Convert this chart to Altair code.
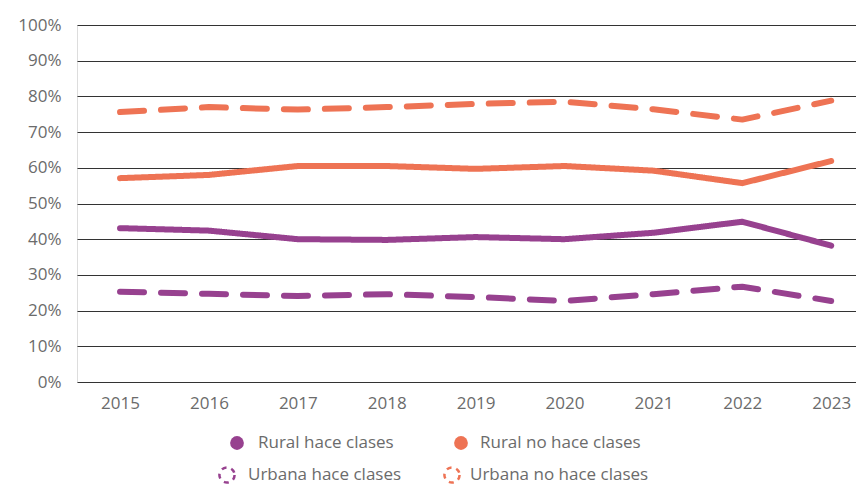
import altair as alt
import pandas as pd

years = [2015, 2016, 2017, 2018, 2019, 2020, 2021, 2022, 2023]
series_names = ["Rural hace clases", "Rural no hace clases", "Urbana hace clases", "Urbana no hace clases"]
rural_hace = [43.1, 42.4, 40.0, 39.8, 40.6, 40.0, 41.8, 44.9, 38.2]
rural_no_hace = [57.1, 58.0, 60.5, 60.5, 59.7, 60.5, 59.2, 55.7, 61.9]
urbana_hace = [25.3, 24.7, 24.1, 24.6, 23.8, 22.7, 24.6, 26.7, 22.7]
urbana_no_hace = [75.6, 77.0, 76.3, 77.0, 77.9, 78.5, 76.4, 73.5, 78.8]
y_ticks = [0, 10, 20, 30, 40, 50, 60, 70, 80, 90, 100]

PURPLE = "#97418F"
ORANGE = "#EE7354"
GREY = "#6b6b6b"
FONT = "Open Sans"

rows = []
for name, vals in zip(series_names, [rural_hace, rural_no_hace, urbana_hace, urbana_no_hace]):
    for yr, v in zip(years, vals):
        rows.append({"year": yr, "value": v, "serie": name})
df = pd.DataFrame(rows)

lines = alt.Chart(df).mark_line(strokeWidth=6, strokeCap="round", strokeJoin="round").encode(
    x=alt.X("year:Q",
            scale=alt.Scale(domain=[2014.516, 2023.279], nice=False, zero=False),
            axis=alt.Axis(values=years, format="d", title=None, grid=False, domain=False, ticks=False,
                          labelFontSize=17, labelColor=GREY, labelFont=FONT, labelPadding=13,
                          labelFlush=False)),
    y=alt.Y("value:Q",
            scale=alt.Scale(domain=[0, 100], nice=False),
            axis=alt.Axis(values=y_ticks, labelExpr="datum.value + '%'", title=None, domain=False, ticks=False,
                          grid=True, gridColor="#333333", gridWidth=1, gridOpacity=1,
                          labelFontSize=17, labelColor=GREY, labelFont=FONT, labelPadding=16)),
    color=alt.Color("serie:N", scale=alt.Scale(domain=series_names, range=[PURPLE, ORANGE, PURPLE, ORANGE]), legend=None),
    strokeDash=alt.StrokeDash("serie:N", scale=alt.Scale(domain=series_names, range=[[1, 0], [1, 0], [24, 17], [24, 17]]), legend=None),
    detail="serie:N",
)

legend_layers = []
leg_pos = [(160, 418, 181), (384, 418, 403), (150, 450, 171), (375, 450, 393)]
leg_colors = [PURPLE, ORANGE, PURPLE, ORANGE]
leg_filled = [True, True, False, False]
for name, (sx, sy, tx), col, filled in zip(series_names, leg_pos, leg_colors, leg_filled):
    src = pd.DataFrame({"label": [name]})
    if filled:
        sym = alt.Chart(src).mark_point(shape="circle", filled=True, size=190, color=col, opacity=1)
    else:
        sym = alt.Chart(src).mark_point(shape="circle", filled=False, size=230, color=col, strokeWidth=2.5,
                                        strokeDash=[5, 5], opacity=1)
    sym = sym.encode(x=alt.value(sx), y=alt.value(sy))
    txt = alt.Chart(src).mark_text(align="left", baseline="middle", fontSize=17, font=FONT, color=GREY).encode(
        x=alt.value(tx), y=alt.value(sy), text="label:N")
    legend_layers += [sym, txt]

chart = alt.layer(lines, *legend_layers).properties(
    width=779, height=357,
    autosize=alt.AutoSizeParams(type="none"),
    padding={"left": 69, "top": 17, "right": 0, "bottom": 103},
).configure_view(stroke=None).configure(background="white")

chart.save("out.html", embed_options={"renderer": "svg", "actions": False})
